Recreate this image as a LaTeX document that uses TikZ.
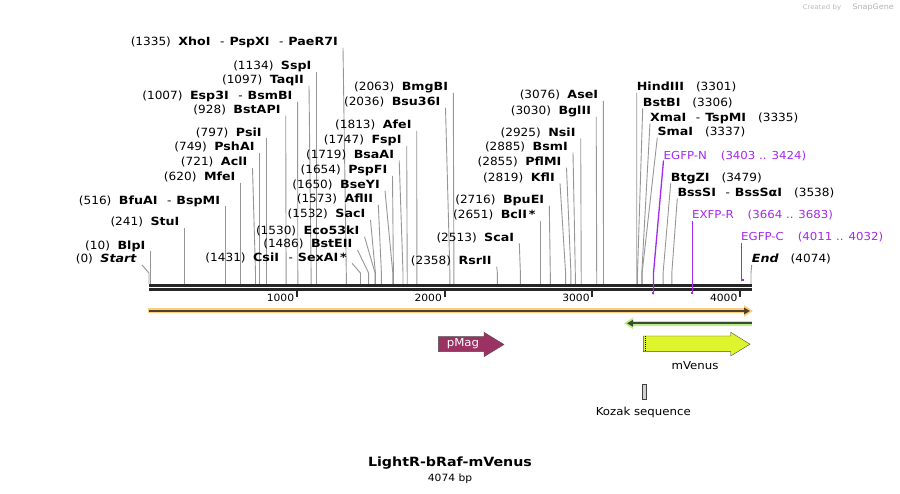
\documentclass[tikz,border=0pt]{standalone}
\usepackage{fontspec}
\setmainfont{DejaVu Sans}[FakeStretch=1.07, BoldFeatures={FakeStretch=1.12}, BoldItalicFeatures={FakeStretch=1.12}]
\usetikzlibrary{arrows.meta, positioning}

\definecolor{sitegray}{RGB}{150,150,150}
\definecolor{primerviolet}{RGB}{165,40,240}
\definecolor{orangehalo}{RGB}{252,205,125}
\definecolor{orangecore}{RGB}{80,65,45}
\definecolor{greenhalo}{RGB}{185,240,130}
\definecolor{greencore}{RGB}{60,75,50}
\definecolor{pmagfill}{RGB}{155,50,100}
\definecolor{venusfill}{RGB}{222,245,45}

% separator between enzymes cutting at the same place
\newcommand{\esep}{\hspace{9.5pt}\textmd{-}\hspace{5pt}}
% site with its label on the left: id, site x, line top x, line top y, position, enzyme
\newcommand{\cutL}[6]{%
  \node[sitelbl, anchor=base east] (l#1) at (#3-5,#4-2) {(#5)\hspace{7.5pt}\textbf{#6}};
  \coordinate (s#1) at (#2,284);
  \coordinate (t#1) at ([shift={(5,2)}]l#1.base east);
  \draw[cutline] (t#1) -- (#2,273) -- (s#1);
}
% site with its label on the right
\newcommand{\cutR}[6]{%
  \node[sitelbl, anchor=base west] (l#1) at (#3,#4-2) {\textbf{#6}\hspace{12pt}(#5)};
  \coordinate (s#1) at (#2,284);
  \coordinate (t#1) at ([shift={(0,2)}]l#1.base west);
  \draw[cutline] (t#1) -- (#2,273) -- (s#1);
}

\begin{document}
\begin{tikzpicture}[x=1pt, y=-1pt,
  sitelbl/.style={inner sep=0, font=\fontsize{11.3}{13}\selectfont},
  primerlbl/.style={inner sep=0, primerviolet, font=\fontsize{11}{13}\selectfont},
  cutline/.style={sitegray, line width=0.9pt},
  primerline/.style={primerviolet, line width=1.3pt},
  backbone/.style={black!85, line width=2.7pt},
  ticklbl/.style={inner sep=0, font=\fontsize{10}{12}\selectfont}]
\useasboundingbox (0,0) rectangle (900,494);

% watermark
\node[inner sep=0, gray!55, font=\fontsize{6.5}{8}\selectfont] (made) at (822,8) {Created by};
\node[inner sep=0, gray!60, font=\fontsize{7.5}{9}\selectfont, right=11pt of made] (snap) {SnapGene};

% backbone and ruler
\draw[backbone] (149,285.3) -- (751.7,285.3);
\draw[backbone] (149,289.7) -- (751.7,289.7);
\foreach \k [evaluate=\k as \x using 149+\k/4074*602] in {1000,2000,3000,4000} {
  \draw[black!85, line width=2pt] (\x,290) -- (\x,297.5);
  \node[ticklbl, anchor=base east] (tk\k) at (\x-2.5,301.5) {\k};
}

% left-hand labels
\cutL{start}{149}{142}{265}{0}{\textit{Start}}
\cutL{blpI}{150.5}{150.5}{251.5}{10}{BlpI}
\cutL{stuI}{184.6}{184.6}{228}{241}{StuI}
\cutL{bfuAI}{225.2}{225.2}{206.5}{516}{BfuAI\esep BspMI}
\cutL{mfeI}{240.6}{240.6}{182.7}{620}{MfeI}
\cutL{aclI}{255.5}{252.5}{168}{721}{AclI}
\cutL{pshAI}{259.7}{259.7}{153}{749}{PshAI}
\cutL{psiI}{266.8}{266.8}{138.3}{797}{PsiI}
\cutL{bstAPI}{286.1}{285.7}{115.7}{928}{BstAPI}
\cutL{esp3I}{297.8}{297.6}{102}{1007}{Esp3I\esep BsmBI}
\cutL{taqII}{311.1}{309}{85.7}{1097}{TaqII}
\cutL{sspI}{316.6}{316.6}{71.7}{1134}{SspI}
\cutL{xhoI}{346.3}{343}{48}{1335}{XhoI\esep PspXI\esep PaeR7I}
\cutL{csiI}{360.5}{352}{263.3}{1431}{CsiI\esep SexAI\,*}
\cutL{bstEII}{368.6}{357.5}{250}{1486}{BstEII}
\cutL{eco53kI}{375.1}{364.5}{236.7}{1530}{Eco53kI}
\cutL{sacI}{375.4}{370.5}{220}{1532}{SacI}
\cutL{aflII}{381.4}{378.3}{205}{1573}{AflII}
\cutL{bseYI}{392.8}{385}{190.7}{1650}{BseYI}
\cutL{pspFI}{393.4}{392.5}{176}{1654}{PspFI}
\cutL{bsaAI}{403}{399.2}{160.5}{1719}{BsaAI}
\cutL{fspI}{407.2}{406.7}{146}{1747}{FspI}
\cutL{afeI}{416.9}{416.7}{131}{1813}{AfeI}
\cutL{bsu36I}{449.9}{445.5}{107.7}{2036}{Bsu36I}
\cutL{bmgBI}{453.9}{453.3}{93}{2063}{BmgBI}
\cutL{rsrII}{497.4}{496.7}{266.7}{2358}{RsrII}
\cutL{scaI}{520.4}{519.3}{243.3}{2513}{ScaI}
\cutL{bclI}{540.7}{540.7}{220.7}{2651}{BclI\,*}
\cutL{bpuEI}{550.3}{549.3}{206}{2716}{BpuEI}
\cutL{kflI}{565.6}{560}{183.3}{2819}{KflI}
\cutL{pflMI}{570.9}{566.5}{167.7}{2855}{PflMI}
\cutL{bsmI}{575.3}{573}{152.7}{2885}{BsmI}
\cutL{nsiI}{581.2}{580.7}{138.3}{2925}{NsiI}
\cutL{bglII}{596.7}{596.2}{116.7}{3030}{BglII}
\cutL{aseI}{603.5}{603.3}{101}{3076}{AseI}

% right-hand labels
\cutR{hindIII}{636.8}{636.7}{92.7}{3301}{HindIII}
\cutR{bstBI}{637.5}{642.7}{108.3}{3306}{BstBI}
\cutR{xmaI}{641.8}{650}{123.3}{3335}{XmaI\esep TspMI}
\cutR{smaI}{642.1}{657.3}{137.7}{3337}{SmaI}
\cutR{btgZI}{663.1}{670.7}{183.3}{3479}{BtgZI}
\cutR{bssSI}{671.8}{677.3}{198.3}{3538}{BssSI\esep BssSαI}
\cutR{end}{751}{751.7}{265}{4074}{\textit{End}}

% primers
\node[primerlbl, anchor=base west] (egfpN) at (663.5,159.5) {EGFP-N\hspace{14pt}(3403 .. 3424)};
\coordinate (egfpNend) at (653.5,294.5);
\draw[primerline] ([shift={(0,1)}]egfpN.base west) -- (653.5,273) -- (egfpNend);
\fill[primerviolet] (egfpNend) rectangle ++(-2,-2);
\node[primerlbl, anchor=base west] (exfpR) at (692,219) {EXFP-R\hspace{14pt}(3664 .. 3683)};
\coordinate (exfpRend) at (692.7,294.5);
\draw[primerline] ([shift={(0.7,2.5)}]exfpR.base west) -- (exfpRend);
\fill[primerviolet] (exfpRend) rectangle ++(-2.2,-2);
\node[primerlbl, anchor=base west] (egfpC) at (741,241) {EGFP-C\hspace{14pt}(4011 .. 4032)};
\coordinate (egfpCend) at (741.7,281.5);
\draw[primerline] ([shift={(0.7,2.5)}]egfpC.base west) -- (egfpCend);
\fill[primerviolet] (egfpCend) rectangle ++(2.3,-2);

% features
\draw[orangehalo, line width=5pt, -{Triangle[length=9pt, width=11pt]}] (148.3,311) -- (753,311);
\draw[orangecore, line width=1.8pt, -{Triangle[length=6pt, width=6.5pt]}] (149,311) -- (750,311);
\draw[greenhalo, line width=5pt, -{Triangle[length=9pt, width=11pt]}] (751.7,323.3) -- (624,323.3);
\draw[greencore, line width=1.8pt, -{Triangle[length=6pt, width=6.5pt]}] (751.7,323.3) -- (627,323.3);

\draw[black!70, fill=pmagfill] (438.3,336.7) -- (484,336.7) -- (484,332.3) -- (504,344.5)
  -- (484,356.7) -- (484,351.7) -- (438.3,351.7) -- cycle;
\node[inner sep=0, white, font=\fontsize{11}{13}\selectfont] (pmag) at (463,343.5) {pMag};

\draw[black!70, fill=venusfill] (643.3,336) -- (730.7,336) -- (730.7,332.3) -- (750,344.2)
  -- (730.7,356) -- (730.7,351.7) -- (643.3,351.7) -- cycle;
\draw[black, densely dotted, line width=1pt] (645,336.5) -- (645,351.2);
\node[inner sep=0, font=\fontsize{11}{13}\selectfont] (venus) at (695,366) {mVenus};

\draw[black!75, fill=gray!35, line width=0.6pt] (642.7,384) rectangle (646,399);
\node[inner sep=0, font=\fontsize{11}{13}\selectfont] (kozak) at (643.3,412.5) {Kozak sequence};

% title
\node[inner sep=0, font=\bfseries\fontsize{12.7}{15}\selectfont] (title) at (450,463.5) {LightR-bRaf-mVenus};
\node[inner sep=0, font=\fontsize{10}{12}\selectfont] (size) at (450,478.5) {4074 bp};
\end{tikzpicture}
\end{document}
